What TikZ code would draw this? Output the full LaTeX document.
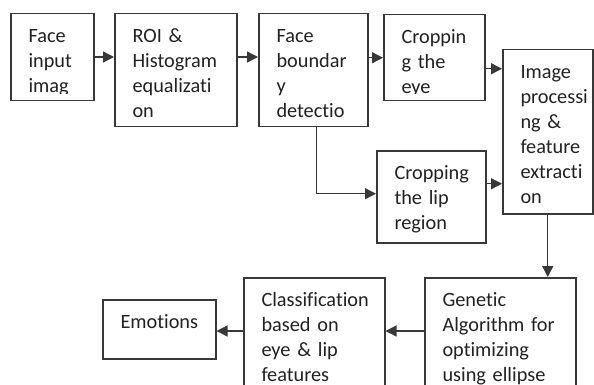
\documentclass[tikz,border=0pt]{standalone}
\usepackage{fontspec}
\setmainfont{Carlito}[Ligatures={NoCommon}]
\usetikzlibrary{arrows.meta}
\definecolor{linec}{HTML}{383838}
\definecolor{textc}{HTML}{222222}
\tikzset{
  box/.style={draw=linec, line width=1.5pt, anchor=north west, inner sep=0pt, fill=white},
  txt/.style={anchor=base west, inner sep=0pt, text width=200pt, align=left,
              font=\fontsize{20.3}{25}\selectfont, text=textc},
  arr/.style={draw=linec, line width=1.3pt, -{Triangle[length=11pt,width=11pt]}},
}
\newcommand\flowbox[6]{%
  \node[box, minimum width={(#4-#2)*1pt}, minimum height={(#5-#3)*1pt},
    path picture={%
      \clip ([yshift=7.5pt]path picture bounding box.south west) rectangle (path picture bounding box.north east);
      \node[txt] at ([xshift=17pt,yshift=-28.5pt]path picture bounding box.north west) {#6};}]
    (#1) at (#2,#3) {};}
\begin{document}
\begin{tikzpicture}[x=1pt,y=-1pt]
  \useasboundingbox (0,0) rectangle (594,385);
  \clip (0,0) rectangle (594,385);
  \fill[white] (0,0) rectangle (594,385);

  \flowbox{n1}{10}{13}{93}{100}{Face\\input\\imag}
  \flowbox{n2}{114}{13}{236}{126}{ROI \&\\Histogram\\equalizati\\on}
  \flowbox{n3}{258}{13}{367}{126}{Face\\boundar\\y\\detectio}
  \flowbox{n4}{383}{14}{484}{100}{Croppin\\g the\\eye}
  \flowbox{n5}{502}{49}{592}{213}{Image\\processi\\ng \&\\feature\\extracti\\on}
  \flowbox{n6}{376}{150}{485}{242}{Cropping\\the lip\\region}
  \flowbox{n7}{424}{277}{575}{410}{Genetic\\Algorithm for\\optimizing\\using ellipse}
  \flowbox{n8}{243}{277}{384}{410}{Classification\\based on\\eye \& lip\\features}
  \flowbox{n9}{102}{299}{215}{358}{Emotions}

  \coordinate (r1) at (0,57);
  \coordinate (r2) at (0,331);

  \draw[arr] (n1.east |- r1) -- (n2.west |- r1);
  \draw[arr] (n2.east |- r1) -- (n3.west |- r1);
  \draw[arr] (n3.east |- n4.west) -- (n4.west);
  \draw[arr] ([yshift=-11pt]n4.east) coordinate (a45) -- (a45 -| n5.west);
  \draw[arr] ([yshift=13pt]n6.east) coordinate (a65) -- (a65 -| n5.west);
  \draw[arr] ([xshift=3pt]n3.south) |- ([yshift=3pt]n6.west);
  \draw[arr] (n5.south) -- (n5.south |- n7.north);
  \draw[arr] (n7.west |- r2) -- (n8.east |- r2);
  \draw[arr] (n8.west |- r2) -- (n9.east |- r2);
\end{tikzpicture}
\end{document}
